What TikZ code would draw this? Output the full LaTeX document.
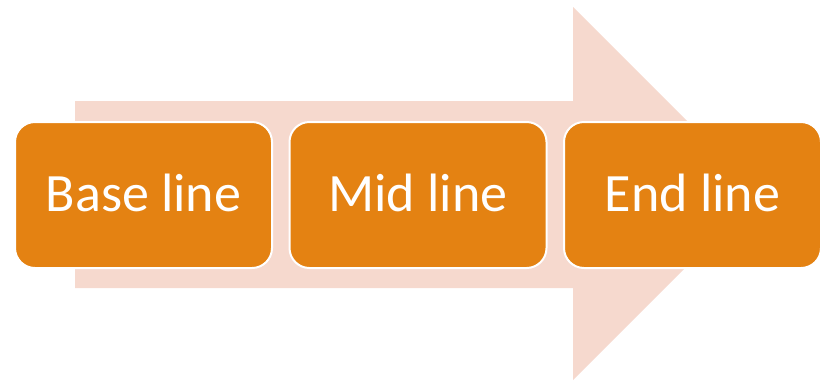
\documentclass[tikz,border=0pt]{standalone}
\usepackage{fontspec}
\setmainfont{Carlito}
\definecolor{boxorange}{RGB}{228,130,18}
\definecolor{arrowpink}{RGB}{246,217,206}
\begin{document}
\begin{tikzpicture}[x=1pt,y=-1pt,
  stagebox/.style={draw=white,line width=2pt,fill=boxorange,rounded corners=20pt,
    minimum width=257pt,minimum height=146pt,inner sep=0pt,text=white,
    font=\fontsize{54}{58}\selectfont},
  bigarrow/.style={fill=arrowpink,draw=none}]
\useasboundingbox (0,0) rectangle (826,381);
\fill[bigarrow] (75,101) -- (573,101) -- (573,7) -- (759.5,193.5) -- (573,380) -- (573,288) -- (75,288) -- cycle;
\node[stagebox] (b1) at (143.5,195) {\raisebox{4pt}{Base line}};
\node[stagebox] (b2) at (418,195) {\raisebox{4pt}{Mid line}};
\node[stagebox] (b3) at (692.5,195) {\raisebox{4pt}{End line}};
\end{tikzpicture}
\end{document}
